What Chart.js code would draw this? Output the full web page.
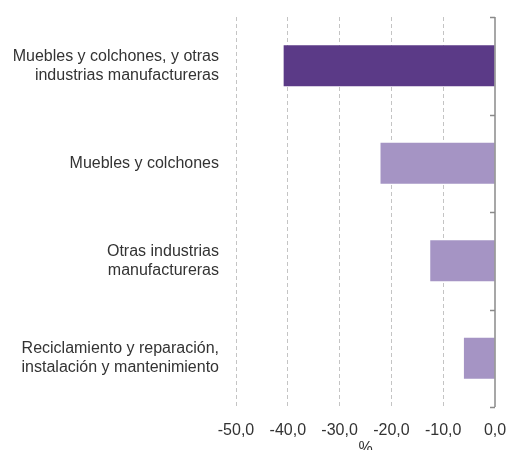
<!DOCTYPE html>
<html>
<head>
<meta charset="utf-8">
<script src="https://cdn.jsdelivr.net/npm/chart.js@4/dist/chart.umd.min.js"></script>
<style>
html, body { margin:0; padding:0; background:#fff; overflow:hidden; }
#caja { position:relative; width:506px; height:462px; }
</style>
</head>
<body>
<div id="caja"><canvas id="grafico"></canvas></div>
<script>

// datos (variacion %)
const categorias = [
["Muebles y colchones, y otras", "industrias manufactureras"],
"Muebles y colchones",
["Otras industrias", "manufactureras"],
["Reciclamiento y reparación,", "instalación y mantenimiento"]
]
const valores = [-40.8, -22.1, -12.5, -6.0]
const colores = ["#5b3a87", "#a594c4", "#a594c4", "#a594c4"]

const ejeMin = -50
const ejeMax = 0
const paso = 10

const fuente = { family:"'Liberation Sans', Arial, sans-serif", size:16, lineHeight:1.2 }

/* linea del eje en 0 con marcas entre categorias */
const ejeCero = {
id:"ejeCero",
afterDatasetsDraw(chart){
let ctx = chart.ctx
let area = chart.chartArea
let x = chart.scales.x.getPixelForValue(0)
let n = categorias.length
let alto = (area.bottom - area.top) / n
ctx.save()
ctx.strokeStyle = "#8a8a8a"
ctx.lineWidth = 1.5
ctx.beginPath()
ctx.moveTo(x, area.top)
ctx.lineTo(x, area.bottom)
for(let i = 0; i <= n; i++){
let y = Math.round(area.top + i*alto) + 0.5
ctx.moveTo(x, y)
ctx.lineTo(x - 5, y)
}
ctx.stroke()
ctx.restore()
}
}

new Chart(document.getElementById("grafico"), {
type:"bar",
data:{
labels:categorias,
datasets:[{
data:valores,
backgroundColor:colores,
barPercentage:0.5,
categoryPercentage:0.84
}]
},
options:{
indexAxis:"y",
responsive:true,
maintainAspectRatio:false,
animation:false,
layout:{ padding:{ top:17, right:11, left:0, bottom:0 } },
plugins:{
legend:{ display:false },
tooltip:{ enabled:false }
},
scales:{
x:{
min:ejeMin,
max:ejeMax,
border:{ display:false, dash:[4,3] },
grid:{
color:(c) => c.tick && c.tick.value === 0 ? "rgba(0,0,0,0)" : "#c4c4c4",
drawTicks:false
},
ticks:{
stepSize:paso,
padding:14,
color:"#333",
font:fuente,
callback:(v) => v.toFixed(1).replace(".", ",")
},
title:{
display:true,
text:"%",
color:"#333",
font:fuente,
padding:{ top:0, bottom:4 }
},
afterFit(scale){
scale.height = 55
scale.paddingLeft = 0
scale.paddingRight = 0
}
},
y:{
border:{ display:false },
grid:{ display:false, drawTicks:false },
ticks:{
padding:17,
color:"#333",
font:fuente
},
afterFit(scale){
scale.width = 236
scale.paddingTop = 0
scale.paddingBottom = 0
}
}
}
},
plugins:[ejeCero]
})

</script>
</body>
</html>
